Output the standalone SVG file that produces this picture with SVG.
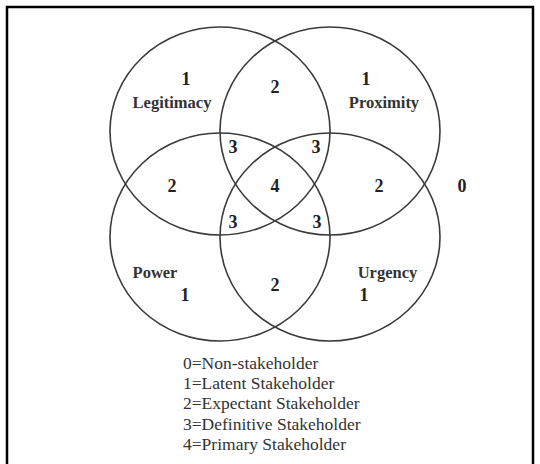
<svg xmlns="http://www.w3.org/2000/svg" width="540" height="464" viewBox="0 0 540 464">
<style>
.c{fill:none;stroke:#3a3a3a;stroke-width:1.6}
.n{font-family:"Liberation Serif",serif;font-weight:bold;font-size:18px;fill:#222;text-anchor:middle}
.l{font-family:"Liberation Serif",serif;font-weight:bold;font-size:16.5px;fill:#333;text-anchor:middle}
.g{font-family:"Liberation Serif",serif;font-size:17.5px;fill:#333}
</style>
<rect x="0" y="0" width="540" height="464" fill="#fff"/>
<path d="M7 464 V7 H533 V464" fill="none" stroke="#000" stroke-width="2.5"/>
<g id="legitimacy"><ellipse class="c" cx="220" cy="131" rx="110" ry="104"/><text class="n" x="186" y="85">1</text><text class="l" x="172" y="108">Legitimacy</text></g>
<g id="proximity"><ellipse class="c" cx="330" cy="131" rx="110" ry="104"/><text class="n" x="366" y="85">1</text><text class="l" x="384" y="108">Proximity</text></g>
<g id="power"><ellipse class="c" cx="220" cy="237" rx="110" ry="104"/><text class="l" x="155" y="278">Power</text><text class="n" x="185" y="301">1</text></g>
<g id="urgency"><ellipse class="c" cx="330" cy="237" rx="110" ry="104"/><text class="l" x="387.5" y="278">Urgency</text><text class="n" x="364" y="301">1</text></g>
<g id="regions">
<text class="n" x="275" y="93">2</text>
<text class="n" x="172" y="192">2</text>
<text class="n" x="275" y="192">4</text>
<text class="n" x="379" y="192">2</text>
<text class="n" x="275" y="291">2</text>
<text class="n" x="233" y="153">3</text>
<text class="n" x="316" y="153">3</text>
<text class="n" x="233" y="228">3</text>
<text class="n" x="317" y="228">3</text>
<text class="n" x="462" y="192">0</text>
</g>
<g id="legend">
<text class="g" x="183" y="369">0=Non-stakeholder</text>
<text class="g" x="183" y="389">1=Latent Stakeholder</text>
<text class="g" x="183" y="409">2=Expectant Stakeholder</text>
<text class="g" x="183" y="430">3=Definitive Stakeholder</text>
<text class="g" x="183" y="450">4=Primary Stakeholder</text>
</g>
</svg>
